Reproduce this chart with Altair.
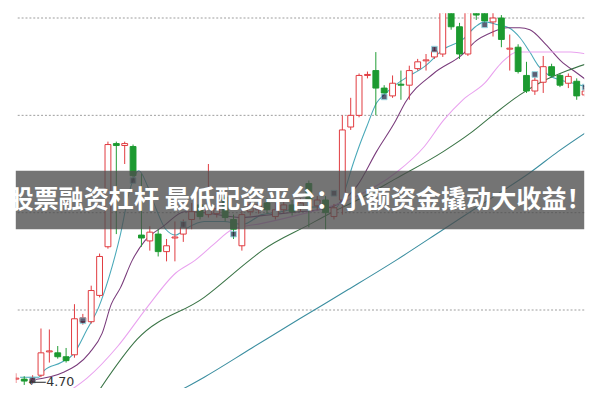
import altair as alt
import pandas as pd

# ---------------- candle data (price units) ----------------
idx = list(range(69))
opens = [4.73, 4.73, 4.72, 4.75, 4.87, 4.865, 4.845, 4.855, 5.025, 5.025,
         5.16, 5.41, 5.94, 5.93, 5.925, 5.47, 5.44, 5.475, 5.385, 5.455,
         5.475, 5.55, 5.625, 5.575, 5.58, 5.665, 5.55, 5.415, 5.59, 5.60,
         5.635, 5.565, 5.60, 5.625, 5.61, 5.735, 5.62, 5.65, 5.565, 5.65,
         6.025, 6.085, 6.29, 6.315, 6.225, 6.185, 6.245, 6.24, 6.325, 6.365,
         6.385, 6.40, 6.70, 6.54, 6.40, 6.675, 6.635, 6.565, 6.585, 6.425,
         6.435, 6.29, 6.21, 6.255, 6.335, 6.29, 6.25, 6.26, 6.19]
closes = [4.735, 4.72, 4.73, 4.865, 4.875, 4.845, 4.825, 5.04, 5.045, 5.185,
          5.36, 5.935, 5.93, 5.94, 5.775, 5.455, 5.485, 5.385, 5.415, 5.46,
          5.51, 5.59, 5.565, 5.61, 5.605, 5.56, 5.50, 5.575, 5.625, 5.625,
          5.60, 5.60, 5.625, 5.59, 5.635, 5.65, 5.65, 5.585, 5.61, 6.01,
          6.085, 6.29, 6.295, 6.225, 6.20, 6.25, 6.24, 6.315, 6.36, 6.37,
          6.415, 6.75, 6.54, 6.40, 6.725, 6.60, 6.57, 6.585, 6.475, 6.43,
          6.31, 6.21, 6.265, 6.335, 6.29, 6.24, 6.285, 6.185, 6.21]
highs = [4.76, 4.745, 4.75, 4.99, 4.985, 4.90, 4.89, 5.115, 5.065, 5.21,
         5.375, 5.95, 5.95, 5.95, 5.935, 5.785, 5.515, 5.50, 5.45, 5.54,
         5.55, 5.635, 5.65, 5.835, 5.635, 5.69, 5.575, 5.60, 5.675, 5.65,
         5.66, 5.635, 5.65, 5.65, 5.66, 5.75, 5.67, 5.67, 5.63, 6.085,
         6.175, 6.30, 6.31, 6.41, 6.24, 6.29, 6.315, 6.34, 6.375, 6.40,
         6.435, 6.80, 6.725, 6.56, 6.775, 6.70, 6.665, 6.675, 6.60, 6.50,
         6.45, 6.36, 6.28, 6.39, 6.35, 6.30, 6.30, 6.275, 6.225]
lows = [4.71, 4.70, 4.705, 4.74, 4.815, 4.835, 4.815, 4.84, 5.01, 5.015,
        5.15, 5.40, 5.475, 5.835, 5.75, 5.41, 5.39, 5.36, 5.335, 5.335,
        5.435, 5.50, 5.55, 5.56, 5.56, 5.54, 5.45, 5.39, 5.57, 5.58,
        5.58, 5.55, 5.585, 5.57, 5.59, 5.51, 5.60, 5.50, 5.55, 5.575,
        6.01, 6.075, 6.275, 6.085, 6.19, 6.175, 6.165, 6.165, 6.315, 6.315,
        6.375, 6.385, 6.525, 6.375, 6.39, 6.575, 6.56, 6.49, 6.435, 6.315,
        6.30, 6.20, 6.19, 6.20, 6.28, 6.23, 6.225, 6.165, 6.18]

# event markers (candle index, price)
marker_idx = [2, 8, 14, 20, 26, 38, 44, 50, 56, 62, 68]
marker_p = [4.725, 5.03, 5.75, 5.525, 5.475, 5.685, 6.18, 6.425, 6.55, 6.295, 6.23]

# ---------------- moving average lines ----------------
ma5_x = [0.5, 2.7, 3.4, 5.4, 6.9, 8.5, 9.9, 11.1, 12.5, 13.6, 14.7, 15.7, 16.8, 17.9, 19.1, 20.2,
         22.5, 24.8, 27.1, 29.4, 31.7, 33.9, 36.2, 38.2, 39.1, 40.2, 41.0, 41.9, 43.1, 44.0, 45.0,
         46.5, 48.8, 51.1, 53.4, 54.9, 56.0, 57.6, 58.9, 60.2, 61.4, 62.5, 63.7, 65.1, 67.1, 68.2]
ma5_y = [4.74, 4.74, 4.775, 4.815, 4.86, 4.985, 5.10, 5.25, 5.475, 5.70, 5.80, 5.725, 5.60, 5.50,
         5.47, 5.50, 5.54, 5.54, 5.525, 5.575, 5.59, 5.61, 5.615, 5.61, 5.675, 5.825, 5.925, 6.025,
         6.15, 6.19, 6.23, 6.275, 6.335, 6.425, 6.475, 6.54, 6.565, 6.55, 6.535, 6.485, 6.41, 6.335,
         6.29, 6.265, 6.245, 6.23]
ma10_x = [1.9, 5.7, 8.8, 10.3, 11.4, 12.5, 13.9, 15.4, 17.6, 20.2, 22.5, 24.8, 27.1, 29.4, 31.7,
          33.9, 36.2, 38.5, 40.8, 43.1, 45.4, 46.5, 49.9, 53.4, 54.9, 56.8, 58.7, 60.2, 61.4,
          63.3, 65.1, 67.1, 68.2]
ma10_y = [4.725, 4.765, 4.865, 4.965, 5.115, 5.20, 5.34, 5.44, 5.515, 5.59, 5.585, 5.57, 5.56,
          5.57, 5.58, 5.59, 5.60, 5.63, 5.725, 5.90, 6.06, 6.15, 6.30, 6.40, 6.465, 6.51, 6.535,
          6.535, 6.525, 6.45, 6.365, 6.30, 6.265]
ma20_x = [5.7, 8.5, 12.2, 15.7, 19.1, 21.4, 23.7, 25.9, 29.4, 33.9, 39.7, 45.4, 48.8, 51.1,
          53.4, 56.0, 57.9, 59.9, 62.5, 66.3, 68.2]
ma20_y = [4.65, 4.735, 4.90, 5.10, 5.275, 5.34, 5.425, 5.50, 5.53, 5.575, 5.65, 5.79, 5.925,
          6.06, 6.165, 6.25, 6.35, 6.41, 6.41, 6.41, 6.40]
ma30_x = [9.6, 14.5, 22.5, 27.9, 29.4, 35.1, 37.7, 40.8, 45.4, 51.1, 54.5, 57.1, 60.2, 62.5,
          65.9, 68.2]
ma30_y = [4.65, 4.935, 5.15, 5.34, 5.39, 5.525, 5.585, 5.65, 5.76, 5.90, 6.00, 6.09, 6.19,
          6.25, 6.315, 6.35]
ma60_x = [18.7, 22.5, 28.2, 33.9, 39.7, 45.4, 51.1, 56.8, 61.4, 64.8, 68.2]
ma60_y = [4.65, 4.74, 4.89, 5.04, 5.19, 5.34, 5.50, 5.66, 5.79, 5.90, 6.00]

grid_p = [6.585, 6.085, 5.585, 5.085]
low_label = "⟵4.70"
banner_text = "股票融资杠杆 最低配资平台：小额资金撬动大收益！"

# ---------------- build tables ----------------
candles = pd.DataFrame({"i": idx, "open": opens, "close": closes, "high": highs, "low": lows})
candles["dir"] = ["up" if c >= o else "down" for o, c in zip(opens, closes)]

ma_frames = []
for name, xs_, ys_ in [("ma5", ma5_x, ma5_y), ("ma10", ma10_x, ma10_y), ("ma20", ma20_x, ma20_y),
                       ("ma30", ma30_x, ma30_y), ("ma60", ma60_x, ma60_y)]:
    ma_frames.append(pd.DataFrame({"ma": name, "i": xs_, "p": ys_}))
ma_df = pd.concat(ma_frames, ignore_index=True)

markers = pd.DataFrame({"i": marker_idx, "p": marker_p})
grid = pd.DataFrame({"p": grid_p})

W, H = 584, 385
xs = alt.Scale(domain=[0.5714, 67.3143], nice=False, zero=False)
ys = alt.Scale(domain=[4.685, 6.61], nice=False, zero=False)
X = alt.X("i:Q", scale=xs, axis=None)

gridlines = alt.Chart(grid).mark_rule(color="#9a9a9a", strokeDash=[2, 2], strokeWidth=1).encode(
    y=alt.Y("p:Q", scale=ys, axis=None))

lines = alt.Chart(ma_df).mark_line(strokeWidth=1.1, clip=True, interpolate="monotone").encode(
    x=X, y=alt.Y("p:Q", scale=ys, axis=None),
    color=alt.Color("ma:N", legend=None, scale=alt.Scale(
        domain=["ma5", "ma10", "ma20", "ma30", "ma60"],
        range=["#4aa9b9", "#7a3c7c", "#e9a2ef", "#3a7446", "#3b8ea0"])),
    detail="ma:N")

dir_stroke = alt.Scale(domain=["up", "down"], range=["#e0373c", "#1c9a30"])
dir_fill = alt.Scale(domain=["up", "down"], range=["#ffffff", "#1c9a30"])

wicks = alt.Chart(candles).mark_rule(strokeWidth=1, clip=True).encode(
    x=X, y=alt.Y("low:Q", scale=ys, axis=None), y2="high:Q",
    stroke=alt.Stroke("dir:N", scale=dir_stroke, legend=None))

bodies = alt.Chart(candles).mark_bar(size=6, strokeWidth=1, clip=True).encode(
    x=X, y=alt.Y("open:Q", scale=ys, axis=None), y2="close:Q",
    fill=alt.Fill("dir:N", scale=dir_fill, legend=None),
    stroke=alt.Stroke("dir:N", scale=dir_stroke, legend=None))

mark_pts = alt.Chart(markers).mark_square(size=34, filled=True, color="#1b1b3a",
                                          stroke="#6fc9d6", strokeWidth=1, clip=True).encode(
    x=X, y=alt.Y("p:Q", scale=ys, axis=None))

banner = alt.Chart(pd.DataFrame({"a": [0]})).mark_rect(color="#4d4d4d", opacity=0.78).encode(
    x=alt.value(0), x2=alt.value(W), y=alt.value(162), y2=alt.value(222))

title = alt.Chart(pd.DataFrame({"t": [banner_text]})).mark_text(
    font="Noto Sans CJK SC", fontSize=25.8, fontWeight="bold", color="#ffffff",
    align="center", baseline="middle").encode(
    text="t:N", x=alt.value(292), y=alt.value(192))

label = alt.Chart(pd.DataFrame({"i": [1], "p": [4.70], "t": [low_label]})).mark_text(
    fontSize=13, color="#333333", align="left", baseline="middle", dx=4, dy=-3,
    font="DejaVu Sans").encode(
    x=X, y=alt.Y("p:Q", scale=ys, axis=None), text="t:N")

chart = alt.layer(gridlines, lines, wicks, bodies, mark_pts, banner, title, label).properties(
    width=W, height=H, padding=0
).configure_view(stroke=None).resolve_scale(color="independent")

chart.save("out.html", embed_options={"renderer": "svg", "actions": False})
